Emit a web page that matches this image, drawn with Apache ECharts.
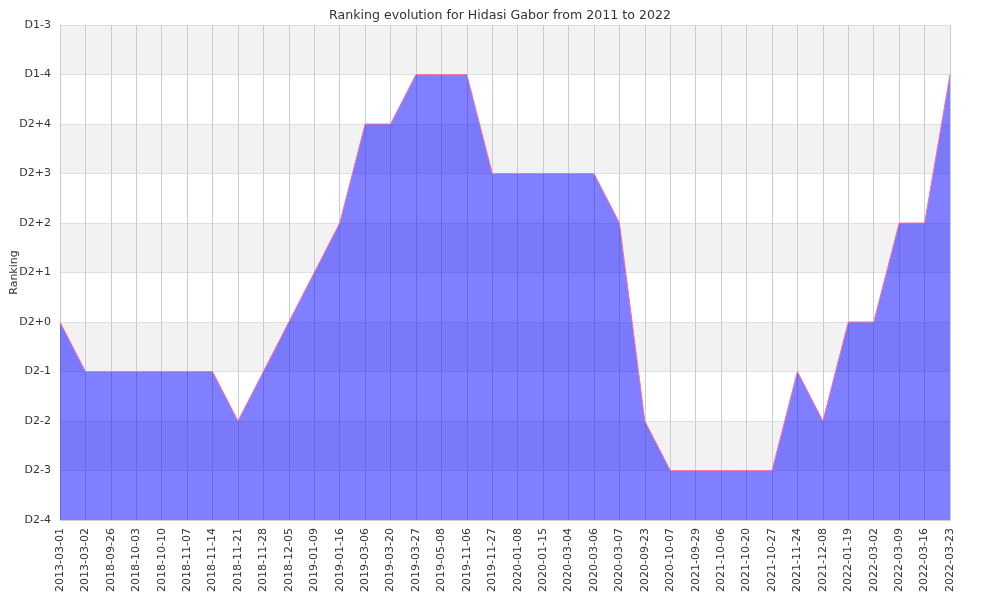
<!DOCTYPE html>
<html><head><meta charset="utf-8">
<script src="https://cdn.jsdelivr.net/npm/echarts@6/dist/echarts.min.js"></script>
<style>html,body{margin:0;padding:0;background:#fff}#c{width:1000px;height:600px}</style>
</head><body><div id="c"></div>
<script>
const dates = ["2013-03-01","2013-03-02","2018-09-26","2018-10-03","2018-10-10","2018-11-07","2018-11-14","2018-11-21","2018-11-28","2018-12-05","2019-01-09","2019-01-16","2019-03-06","2019-03-20","2019-03-27","2019-05-08","2019-11-06","2019-11-27","2020-01-08","2020-01-15","2020-03-04","2020-03-06","2020-03-07","2020-09-23","2020-10-07","2021-09-29","2021-10-06","2021-10-20","2021-10-27","2021-11-24","2021-12-08","2022-01-19","2022-03-02","2022-03-09","2022-03-16","2022-03-23"];
const rankLabels = ["D2-4","D2-3","D2-2","D2-1","D2+0","D2+1","D2+2","D2+3","D2+4","D1-4","D1-3"];
const ranks = ["D2+0","D2-1","D2-1","D2-1","D2-1","D2-1","D2-1","D2-2","D2-1","D2+0","D2+1","D2+2","D2+4","D2+4","D1-4","D1-4","D1-4","D2+3","D2+3","D2+3","D2+3","D2+3","D2+2","D2-2","D2-3","D2-3","D2-3","D2-3","D2-3","D2-1","D2-2","D2+0","D2+0","D2+2","D2+2","D1-4"];
const values = ranks.map(r => rankLabels.indexOf(r));
const font = 'DejaVu Sans';
const chart = echarts.init(document.getElementById('c'));
chart.setOption({
  animation: false,
  title: {text: 'Ranking evolution for Hidasi Gabor from 2011 to 2022', left: 'center', top: 4,
    textStyle: {fontFamily: font, fontSize: 12.6, fontWeight: 'normal', color: '#333'}},
  grid: {left: 60, right: 50, top: 25, bottom: 80, containLabel: false, outerBoundsMode: 'none'},
  xAxis: {type: 'category', data: dates, boundaryGap: false,
    axisLine: {lineStyle: {color: '#ccc'}}, axisTick: {show: false},
    axisLabel: {rotate: 90, interval: 0, fontFamily: font, fontSize: 11, color: '#333', margin: 8},
    splitLine: {show: true, lineStyle: {color: '#ccc', width: 1}}},
  yAxis: {type: 'value', min: 0, max: 10, interval: 1, name: 'Ranking', nameLocation: 'middle', nameGap: 40,
    nameMoveOverlap: false,
    nameTextStyle: {fontFamily: font, fontSize: 11, color: '#333'},
    axisLine: {show: true, lineStyle: {color: '#ccc'}}, axisTick: {show: false},
    axisLabel: {formatter: v => rankLabels[v], fontFamily: font, fontSize: 11, color: '#333', margin: 9},
    splitLine: {show: true, lineStyle: {color: '#e0e0e0'}},
    splitArea: {show: true, areaStyle: {color: ['#ffffff', '#f2f2f2']}}},
  series: [{type: 'line', data: values, symbol: 'none',
    lineStyle: {color: '#ff6fa8', width: 1},
    areaStyle: {color: '#0000ff', opacity: 0.5, origin: 'start'}}]
});
</script></body></html>
